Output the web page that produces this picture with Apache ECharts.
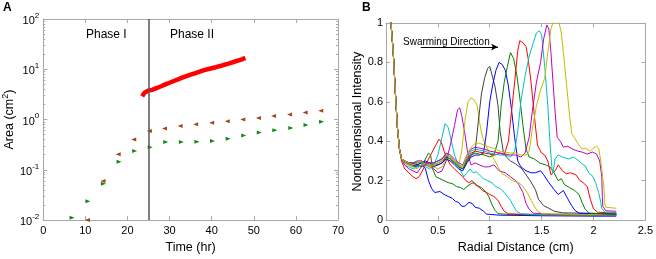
<!DOCTYPE html>
<html><head><meta charset="utf-8">
<script src="https://cdn.jsdelivr.net/npm/echarts@6/dist/echarts.min.js"></script>
<style>html,body{margin:0;padding:0;background:#fff}#c{width:656px;height:259px}</style>
</head><body><div id="c"></div>
<script>
// ---------- Panel A data ----------
const redTime = [23.5,24,24.5,25,26,27,28,29,30,31,32,33,34,35,36,37,38,39,40,41,42,43,44,45,46,47,48];
const redArea = [2.9,3.4,3.6,3.75,3.95,4.25,4.6,5.0,5.4,5.85,6.3,6.8,7.3,7.8,8.3,8.9,9.5,10.0,10.5,11.0,11.6,12.3,13.0,13.8,14.7,15.6,16.8];
const brownTime = [10.5,14.2,17.8,21.5,25.2,28.8,32.5,36.2,40.0,43.7,47.4,51.1,54.7,58.5,62.2,65.9];
const brownArea = [0.01,0.06,0.205,0.40,0.59,0.66,0.74,0.81,0.86,0.92,1.0,1.07,1.17,1.26,1.38,1.49];
const greenTime = [6.85,10.6,14.3,18.0,21.7,25.4,29.1,32.8,36.5,40.2,43.9,47.6,51.3,55.0,58.8,62.4,66.1];
const greenArea = [0.0112,0.0236,0.053,0.144,0.237,0.282,0.357,0.357,0.36,0.373,0.414,0.48,0.55,0.615,0.68,0.78,0.90];
const phaseBoundary = 25;

// ---------- Panel B data: [radial distance (cm), intensity] ----------
const c1 = [[0.045,1.02],[0.07,0.85],[0.09,0.65],[0.11,0.47],[0.13,0.36],[0.15,0.31],[0.2,0.29],[0.25,0.28],[0.3,0.27],[0.35,0.28],[0.38,0.26],[0.41,0.2],[0.44,0.16],[0.47,0.14],[0.52,0.145],[0.56,0.13],[0.6,0.12],[0.64,0.11],[0.67,0.095],[0.7,0.09],[0.73,0.07],[0.76,0.07],[0.8,0.09],[0.83,0.085],[0.86,0.065],[0.9,0.06],[0.94,0.045],[0.97,0.03],[1.1,0.025],[1.5,0.022],[2.0,0.02],[2.22,0.02]];
const c2 = [[0.045,1.02],[0.07,0.85],[0.09,0.65],[0.11,0.47],[0.13,0.36],[0.15,0.31],[0.18,0.29],[0.22,0.28],[0.26,0.27],[0.3,0.28],[0.34,0.27],[0.38,0.31],[0.41,0.34],[0.43,0.33],[0.45,0.26],[0.48,0.22],[0.52,0.21],[0.56,0.2],[0.6,0.19],[0.64,0.185],[0.68,0.17],[0.72,0.165],[0.75,0.155],[0.78,0.17],[0.82,0.185],[0.85,0.19],[0.88,0.175],[0.92,0.165],[0.96,0.145],[0.99,0.12],[1.02,0.08],[1.05,0.05],[1.08,0.033],[1.2,0.028],[1.6,0.026],[2.22,0.025]];
const c3 = [[0.045,1.02],[0.07,0.85],[0.09,0.65],[0.11,0.47],[0.13,0.36],[0.15,0.3],[0.18,0.26],[0.22,0.24],[0.26,0.22],[0.29,0.21],[0.32,0.22],[0.36,0.26],[0.4,0.3],[0.44,0.34],[0.48,0.38],[0.51,0.41],[0.53,0.4],[0.56,0.35],[0.59,0.31],[0.62,0.28],[0.66,0.26],[0.7,0.24],[0.74,0.22],[0.77,0.2],[0.8,0.19],[0.83,0.2],[0.86,0.18],[0.89,0.17],[0.93,0.15],[0.97,0.14],[1.0,0.13],[1.04,0.12],[1.08,0.1],[1.11,0.07],[1.14,0.045],[1.18,0.032],[1.4,0.028],[2.22,0.026]];
const c4 = [[0.045,1.02],[0.07,0.85],[0.09,0.65],[0.11,0.47],[0.13,0.36],[0.15,0.31],[0.18,0.28],[0.22,0.27],[0.26,0.26],[0.3,0.27],[0.34,0.28],[0.38,0.27],[0.42,0.26],[0.46,0.28],[0.5,0.33],[0.54,0.42],[0.57,0.49],[0.6,0.47],[0.63,0.4],[0.66,0.33],[0.69,0.29],[0.72,0.25],[0.75,0.22],[0.78,0.24],[0.81,0.26],[0.84,0.24],[0.87,0.245],[0.9,0.23],[0.94,0.21],[0.98,0.2],[1.02,0.19],[1.06,0.17],[1.1,0.16],[1.14,0.14],[1.17,0.12],[1.2,0.1],[1.23,0.07],[1.26,0.045],[1.3,0.032],[1.5,0.028],[2.22,0.026]];
const c5 = [[0.045,1.02],[0.07,0.85],[0.09,0.65],[0.11,0.47],[0.13,0.36],[0.15,0.31],[0.18,0.28],[0.22,0.26],[0.26,0.25],[0.3,0.24],[0.34,0.27],[0.38,0.28],[0.42,0.27],[0.46,0.26],[0.5,0.24],[0.54,0.25],[0.58,0.3],[0.62,0.38],[0.66,0.48],[0.69,0.56],[0.71,0.57],[0.73,0.53],[0.76,0.44],[0.79,0.33],[0.82,0.28],[0.86,0.29],[0.9,0.28],[0.95,0.27],[0.99,0.27],[1.04,0.28],[1.09,0.25],[1.15,0.24],[1.2,0.22],[1.25,0.2],[1.28,0.18],[1.32,0.14],[1.35,0.085],[1.38,0.055],[1.42,0.035],[1.6,0.03],[2.22,0.028]];
const c6 = [[0.045,1.02],[0.07,0.85],[0.09,0.65],[0.11,0.47],[0.13,0.36],[0.15,0.31],[0.18,0.29],[0.22,0.28],[0.26,0.27],[0.3,0.26],[0.34,0.28],[0.38,0.29],[0.42,0.27],[0.46,0.27],[0.5,0.26],[0.54,0.27],[0.58,0.31],[0.62,0.3],[0.66,0.29],[0.7,0.28],[0.73,0.35],[0.76,0.5],[0.79,0.6],[0.82,0.62],[0.85,0.61],[0.88,0.58],[0.9,0.5],[0.93,0.42],[0.96,0.38],[1.0,0.34],[1.04,0.31],[1.08,0.27],[1.12,0.235],[1.17,0.22],[1.22,0.2],[1.28,0.19],[1.32,0.17],[1.36,0.14],[1.4,0.1],[1.43,0.07],[1.46,0.045],[1.5,0.033],[1.7,0.03],[2.22,0.028]];
const c7 = [[0.045,1.02],[0.07,0.85],[0.09,0.65],[0.11,0.47],[0.13,0.36],[0.15,0.31],[0.18,0.3],[0.22,0.29],[0.26,0.28],[0.3,0.28],[0.34,0.29],[0.38,0.28],[0.42,0.28],[0.46,0.27],[0.5,0.28],[0.54,0.29],[0.58,0.32],[0.62,0.31],[0.66,0.29],[0.7,0.27],[0.74,0.26],[0.78,0.3],[0.82,0.33],[0.86,0.35],[0.89,0.5],[0.92,0.64],[0.95,0.72],[0.98,0.77],[1.0,0.78],[1.02,0.74],[1.05,0.68],[1.08,0.58],[1.1,0.45],[1.13,0.35],[1.16,0.32],[1.2,0.3],[1.25,0.285],[1.31,0.26],[1.35,0.23],[1.39,0.2],[1.44,0.155],[1.47,0.105],[1.52,0.073],[1.57,0.06],[1.62,0.045],[1.7,0.037],[2.22,0.032]];
const c8 = [[0.045,1.02],[0.07,0.85],[0.09,0.65],[0.11,0.47],[0.13,0.36],[0.15,0.31],[0.18,0.3],[0.22,0.29],[0.26,0.29],[0.3,0.28],[0.34,0.29],[0.38,0.3],[0.42,0.29],[0.46,0.28],[0.5,0.28],[0.54,0.29],[0.58,0.31],[0.62,0.3],[0.66,0.28],[0.7,0.26],[0.74,0.25],[0.78,0.29],[0.82,0.32],[0.86,0.33],[0.9,0.33],[0.94,0.34],[0.97,0.45],[1.0,0.6],[1.03,0.69],[1.06,0.76],[1.09,0.8],[1.12,0.79],[1.15,0.76],[1.18,0.68],[1.21,0.56],[1.24,0.42],[1.27,0.3],[1.3,0.27],[1.35,0.25],[1.4,0.24],[1.44,0.24],[1.49,0.25],[1.52,0.23],[1.57,0.19],[1.62,0.155],[1.66,0.13],[1.71,0.15],[1.75,0.11],[1.79,0.073],[1.82,0.05],[1.86,0.035],[2.22,0.03]];
const c9 = [[0.045,1.02],[0.07,0.85],[0.09,0.65],[0.11,0.47],[0.13,0.36],[0.15,0.31],[0.18,0.3],[0.22,0.29],[0.26,0.29],[0.3,0.29],[0.34,0.3],[0.38,0.29],[0.42,0.29],[0.46,0.28],[0.5,0.29],[0.54,0.3],[0.58,0.32],[0.62,0.31],[0.66,0.29],[0.7,0.27],[0.74,0.26],[0.78,0.3],[0.82,0.33],[0.86,0.34],[0.9,0.335],[0.95,0.33],[1.0,0.32],[1.04,0.33],[1.08,0.4],[1.11,0.58],[1.14,0.7],[1.17,0.78],[1.2,0.85],[1.23,0.82],[1.26,0.74],[1.29,0.62],[1.32,0.48],[1.35,0.36],[1.38,0.32],[1.43,0.31],[1.48,0.29],[1.54,0.28],[1.58,0.27],[1.62,0.24],[1.66,0.2],[1.69,0.21],[1.72,0.18],[1.77,0.165],[1.82,0.15],[1.86,0.13],[1.89,0.09],[1.92,0.055],[1.96,0.035],[2.22,0.03]];
const c10 = [[0.045,1.02],[0.07,0.85],[0.09,0.65],[0.11,0.47],[0.13,0.36],[0.15,0.31],[0.18,0.3],[0.22,0.29],[0.26,0.29],[0.3,0.3],[0.34,0.3],[0.38,0.29],[0.42,0.29],[0.46,0.29],[0.5,0.3],[0.54,0.31],[0.58,0.33],[0.62,0.32],[0.66,0.3],[0.7,0.28],[0.74,0.27],[0.78,0.31],[0.82,0.34],[0.86,0.35],[0.9,0.345],[0.95,0.34],[1.0,0.335],[1.05,0.33],[1.1,0.34],[1.14,0.33],[1.18,0.4],[1.21,0.55],[1.24,0.7],[1.27,0.86],[1.29,0.91],[1.32,0.9],[1.35,0.88],[1.37,0.82],[1.4,0.69],[1.43,0.53],[1.46,0.38],[1.5,0.34],[1.53,0.33],[1.56,0.3],[1.59,0.23],[1.63,0.25],[1.66,0.28],[1.7,0.25],[1.74,0.235],[1.78,0.24],[1.83,0.23],[1.87,0.2],[1.9,0.19],[1.94,0.17],[1.97,0.105],[2.0,0.057],[2.04,0.04],[2.22,0.035]];
const c11 = [[0.045,1.02],[0.07,0.85],[0.09,0.65],[0.11,0.47],[0.13,0.36],[0.15,0.31],[0.18,0.3],[0.22,0.29],[0.26,0.29],[0.3,0.3],[0.34,0.29],[0.38,0.29],[0.42,0.28],[0.46,0.29],[0.5,0.3],[0.54,0.31],[0.58,0.34],[0.62,0.32],[0.66,0.3],[0.7,0.28],[0.74,0.27],[0.78,0.32],[0.82,0.35],[0.86,0.36],[0.9,0.355],[0.95,0.35],[1.0,0.34],[1.05,0.335],[1.1,0.33],[1.15,0.33],[1.2,0.32],[1.24,0.35],[1.27,0.45],[1.3,0.6],[1.34,0.73],[1.38,0.83],[1.42,0.9],[1.45,0.95],[1.48,0.96],[1.5,0.94],[1.53,0.78],[1.56,0.58],[1.58,0.4],[1.6,0.26],[1.61,0.24],[1.63,0.31],[1.66,0.33],[1.7,0.32],[1.76,0.31],[1.81,0.32],[1.86,0.3],[1.89,0.285],[1.92,0.275],[1.96,0.235],[1.99,0.225],[2.02,0.19],[2.05,0.14],[2.07,0.09],[2.08,0.06],[2.11,0.04],[2.22,0.038]];
const c12 = [[0.045,1.02],[0.07,0.85],[0.09,0.65],[0.11,0.47],[0.13,0.36],[0.15,0.31],[0.18,0.3],[0.22,0.29],[0.26,0.29],[0.3,0.29],[0.34,0.3],[0.38,0.29],[0.42,0.29],[0.46,0.29],[0.5,0.3],[0.54,0.31],[0.58,0.34],[0.62,0.33],[0.66,0.31],[0.7,0.29],[0.74,0.28],[0.78,0.33],[0.82,0.36],[0.86,0.37],[0.9,0.365],[0.95,0.36],[1.0,0.35],[1.05,0.345],[1.1,0.34],[1.15,0.335],[1.2,0.33],[1.25,0.33],[1.3,0.32],[1.34,0.34],[1.38,0.42],[1.41,0.55],[1.45,0.7],[1.49,0.8],[1.52,0.92],[1.55,0.99],[1.57,0.97],[1.59,0.85],[1.61,0.7],[1.63,0.55],[1.65,0.42],[1.68,0.4],[1.71,0.37],[1.75,0.375],[1.8,0.36],[1.85,0.35],[1.89,0.345],[1.94,0.335],[1.99,0.345],[2.03,0.335],[2.06,0.3],[2.08,0.22],[2.085,0.12],[2.09,0.07],[2.12,0.047],[2.22,0.045]];
const c13 = [[0.045,1.02],[0.07,0.85],[0.09,0.65],[0.11,0.47],[0.13,0.36],[0.15,0.31],[0.18,0.3],[0.22,0.29],[0.26,0.28],[0.3,0.29],[0.34,0.3],[0.38,0.28],[0.42,0.28],[0.46,0.28],[0.5,0.29],[0.54,0.3],[0.58,0.33],[0.62,0.32],[0.66,0.3],[0.7,0.28],[0.74,0.27],[0.78,0.33],[0.82,0.37],[0.86,0.39],[0.9,0.39],[0.95,0.38],[1.0,0.37],[1.05,0.36],[1.1,0.35],[1.15,0.345],[1.2,0.34],[1.25,0.34],[1.3,0.33],[1.35,0.33],[1.38,0.35],[1.41,0.46],[1.45,0.58],[1.49,0.66],[1.53,0.72],[1.56,0.85],[1.59,0.97],[1.62,1.02],[1.66,1.02],[1.69,0.95],[1.71,0.85],[1.74,0.69],[1.77,0.53],[1.79,0.44],[1.82,0.415],[1.86,0.38],[1.89,0.36],[1.92,0.365],[1.97,0.35],[2.0,0.365],[2.03,0.375],[2.05,0.365],[2.07,0.3],[2.1,0.17],[2.11,0.08],[2.12,0.065],[2.22,0.06]];
const profiles = [c1,c2,c3,c4,c5,c6,c7,c8,c9,c10,c11,c12,c13];
const profileColors = ['#0000ff','#008000','#ff0000','#00bfbf','#bf00bf','#bfbf00','#404040','#0000ff','#008000','#ff0000','#00bfbf','#bf00bf','#bfbf00'];
const arrowStart = [0.335, 0.878];
const arrowEnd = [1.08, 0.878];

// ---------- chart ----------
const FONT = '"Liberation Sans", Arial, Helvetica, sans-serif';
const BOX = '#a8a8a8';
const chart = echarts.init(document.getElementById('c'), null, {renderer: 'canvas'});

function baseAxis(extra) {
  return Object.assign({
    axisLine: {show: true, onZero: false, lineStyle: {color: BOX, width: 1}},
    axisTick: {show: true, inside: true, length: 4, lineStyle: {color: BOX}},
    splitLine: {show: false},
    axisLabel: {show: true, color: '#000', fontSize: 11, fontFamily: FONT},
    nameTextStyle: {color: '#000', fontSize: 12.5, fontFamily: FONT}
  }, extra);
}
const supRich = {
  b: {fontSize: 11, fontFamily: FONT, color: '#000', verticalAlign: 'bottom'},
  s: {fontSize: 8, fontFamily: FONT, color: '#000', verticalAlign: 'bottom', padding: [0, 0, 7, 0]}
};
function logFmt(v) {
  const e = Math.round(Math.log10(v));
  return '{b|10}{s|' + e + '}';
}

const gridA = {left: 43, right: 318, top: 19, bottom: 31};
const gridB = {left: 386, right: 9, top: 23, bottom: 31};

const option = {
  animation: false,
  backgroundColor: '#fff',
  grid: [gridA, gridB],
  xAxis: [
    baseAxis({gridIndex: 0, type: 'value', min: 0, max: 70, interval: 10, position: 'bottom',
      name: 'Time (hr)', nameLocation: 'middle', nameGap: 16,
      axisLabel: {color: '#000', fontSize: 11, fontFamily: FONT, margin: 5}}),
    baseAxis({gridIndex: 0, type: 'value', min: 0, max: 70, interval: 10, position: 'top', axisLabel: {show: false}}),
    baseAxis({gridIndex: 1, type: 'value', min: 0, max: 2.5, interval: 0.5, position: 'bottom',
      name: 'Radial Distance (cm)', nameLocation: 'middle', nameGap: 16,
      axisLabel: {color: '#000', fontSize: 11, fontFamily: FONT, margin: 5}}),
    baseAxis({gridIndex: 1, type: 'value', min: 0, max: 2.5, interval: 0.5, position: 'top', axisLabel: {show: false}})
  ],
  yAxis: [
    baseAxis({gridIndex: 0, type: 'log', logBase: 10, min: 0.01, max: 100, position: 'left',
      minorTick: {show: true, splitNumber: 9, length: 2, lineStyle: {color: BOX}},
      name: '{n|Area (cm}{ns|2}{n|)}', nameLocation: 'middle', nameGap: 24, nameRotate: 90,
      nameTextStyle: {rich: {
        n: {fontSize: 12.5, fontFamily: FONT, color: '#000', verticalAlign: 'bottom'},
        ns: {fontSize: 9, fontFamily: FONT, color: '#000', verticalAlign: 'bottom', padding: [0, 0, 6, 0]}
      }},
      axisLabel: {formatter: logFmt, rich: supRich, margin: 4}}),
    baseAxis({gridIndex: 0, type: 'log', logBase: 10, min: 0.01, max: 100, position: 'right',
      minorTick: {show: true, splitNumber: 9, length: 2, lineStyle: {color: BOX}},
      axisLabel: {show: false}}),
    baseAxis({gridIndex: 1, type: 'value', min: 0, max: 1, interval: 0.2, position: 'left',
      name: 'Nondimensional Intensity', nameLocation: 'middle', nameGap: 20, nameRotate: 90,
      axisLabel: {color: '#000', fontSize: 11, fontFamily: FONT, margin: 3}}),
    baseAxis({gridIndex: 1, type: 'value', min: 0, max: 1, interval: 0.2, position: 'right', axisLabel: {show: false}})
  ],
  series: []
};

// Panel A series
option.series.push({
  type: 'line', xAxisIndex: 0, yAxisIndex: 0, showSymbol: false, symbol: 'none',
  data: redTime.map((t, i) => [t, redArea[i]]),
  lineStyle: {color: '#ff0000', width: 4.5}, z: 3,
  markLine: {silent: true, symbol: ['none', 'none'], label: {show: false},
    lineStyle: {color: '#555', width: 1.5, type: 'solid'},
    data: [{xAxis: phaseBoundary}]}
});
option.series.push({
  type: 'scatter', xAxisIndex: 0, yAxisIndex: 0, symbol: 'triangle', symbolSize: [4, 5], symbolRotate: 90,
  data: brownTime.map((t, i) => [t, brownArea[i]]),
  itemStyle: {color: '#a8401a', opacity: 1}, z: 4
});
option.series.push({
  type: 'scatter', xAxisIndex: 0, yAxisIndex: 0, symbol: 'triangle', symbolSize: [4, 5], symbolRotate: -90,
  data: greenTime.map((t, i) => [t, greenArea[i]]),
  itemStyle: {color: '#108a10', opacity: 1}, z: 4
});

// Panel B series
profiles.forEach((p, i) => {
  const s = {
    type: 'line', xAxisIndex: 2, yAxisIndex: 2, showSymbol: false, symbol: 'none', clip: true,
    data: p, lineStyle: {color: profileColors[i], width: 1}, z: 2
  };
  if (i === 0) {
    s.markLine = {silent: true, symbol: ['none', 'arrow'], symbolSize: [5, 7], label: {show: false},
      lineStyle: {color: '#000', width: 1, type: 'solid'},
      data: [[{coord: arrowStart}, {coord: arrowEnd}]]};
  }
  option.series.push(s);
});

option.graphic = [
  {type: 'text', left: 3, top: 2, style: {text: 'A', font: 'bold 12px ' + FONT, fill: '#000'}},
  {type: 'text', left: 362, top: 2, style: {text: 'B', font: 'bold 12px ' + FONT, fill: '#000'}},
  {type: 'text', left: 86, top: 29, style: {text: 'Phase I', font: '12px ' + FONT, fill: '#000'}},
  {type: 'text', left: 170, top: 29, style: {text: 'Phase II', font: '12px ' + FONT, fill: '#000'}},
  {type: 'text', left: 403, top: 37, style: {text: 'Swarming Direction', font: '10px ' + FONT, fill: '#000'}}
];

chart.setOption(option);
</script>
</body></html>
